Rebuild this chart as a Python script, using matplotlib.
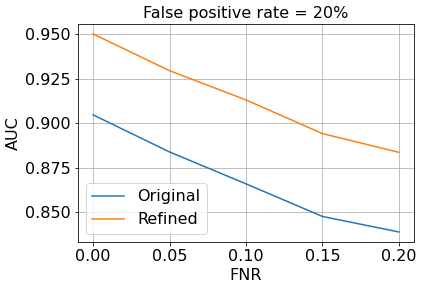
import matplotlib
matplotlib.use("Agg")
import matplotlib.pyplot as plt

fnr = [0.0, 0.05, 0.10, 0.15, 0.20]
auc_original = [0.9046, 0.8838, 0.8659, 0.8476, 0.8389]
auc_refined = [0.9500, 0.9294, 0.9130, 0.8941, 0.8836]
auc_ticks = [0.850, 0.875, 0.900, 0.925, 0.950]

plt.rcParams["font.size"] = 16

fig, ax = plt.subplots(figsize=(423 / 72, 290 / 72), dpi=72)
fig.subplots_adjust(left=0.184, right=0.979, top=0.917, bottom=0.166)

ax.plot(fnr, auc_original, label="Original")
ax.plot(fnr, auc_refined, label="Refined")
ax.set_xticks(fnr)
ax.set_yticks(auc_ticks)
ax.set_yticklabels([f"{t:.3f}" for t in auc_ticks])
ax.set_xlabel("FNR")
ax.set_ylabel("AUC")
ax.set_title("False positive rate = 20%", fontsize=16)
ax.grid(True)
ax.legend(loc="lower left")

fig.savefig("out.png", dpi=72)
